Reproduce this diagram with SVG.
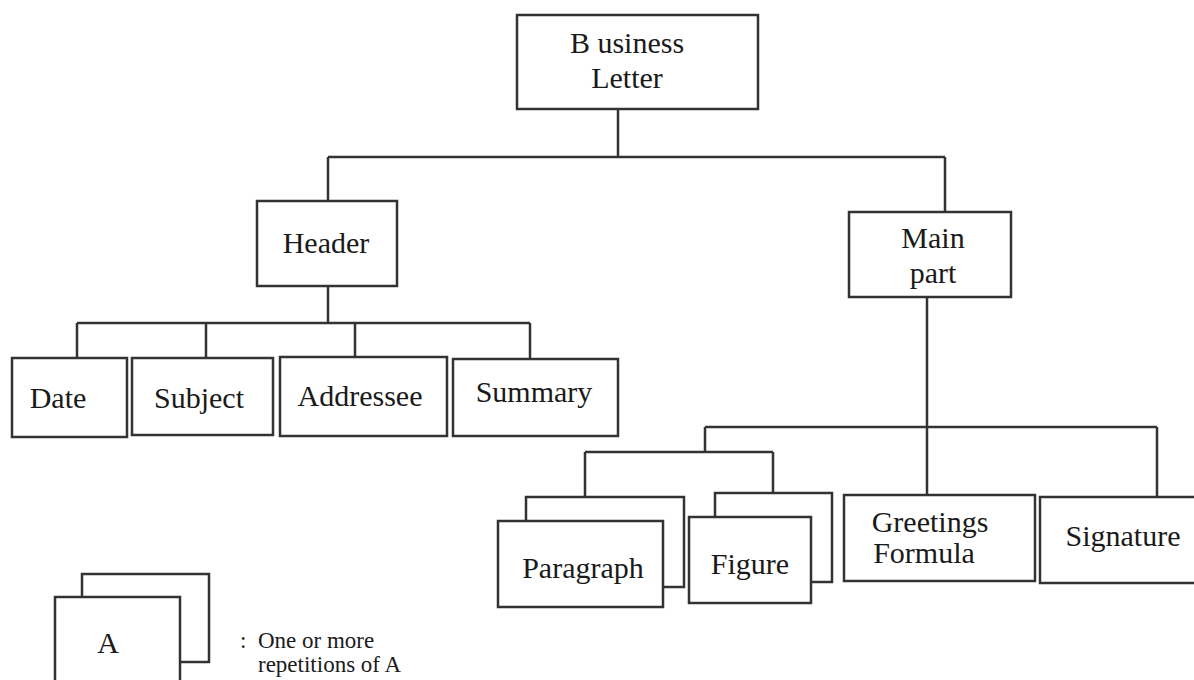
<svg xmlns="http://www.w3.org/2000/svg" width="1194" height="680" viewBox="0 0 1194 680">
<style>
.box{fill:#fff;stroke:#333;stroke-width:2.5}
.con{fill:none;stroke:#333;stroke-width:2.5}
text{font-family:"Liberation Serif","Times New Roman",serif;font-size:30px;fill:#1a1a1a;text-anchor:middle}
.leg{text-anchor:start;font-size:23px}
</style>
<rect width="1194" height="680" fill="#fff"/>
<g id="connectors">
<path class="con" d="M618 109V157M328 157H945M328 157V201M945 157V212"/>
<path class="con" d="M328 286V323M77 323H530M77 323V358M206 323V358M355 323V358M530 323V359"/>
<path class="con" d="M927 297V495M705 427H1157M1157 427V497M705 427V452M585 452H773M585 452V497M773 452V493"/>
</g>
<g id="business-letter"><rect class="box" x="517" y="15" width="241" height="94"/><text x="627" y="53">B usiness</text><text x="627" y="88">Letter</text></g>
<g id="header"><rect class="box" x="257" y="201" width="140" height="85"/><text x="326" y="253">Header</text></g>
<g id="main-part"><rect class="box" x="849" y="212" width="162" height="85"/><text x="933" y="248">Main</text><text x="933" y="283">part</text></g>
<g id="date"><rect class="box" x="12" y="358" width="115" height="79"/><text x="58" y="408">Date</text></g>
<g id="subject"><rect class="box" x="132" y="358" width="141" height="77"/><text x="199" y="408">Subject</text></g>
<g id="addressee"><rect class="box" x="280" y="357" width="167" height="79"/><text x="360" y="406">Addressee</text></g>
<g id="summary"><rect class="box" x="453" y="359" width="165" height="77"/><text x="534" y="402">Summary</text></g>
<g id="paragraph"><rect class="box" x="526" y="497" width="158" height="90"/><rect class="box" x="498" y="521" width="165" height="86"/><text x="583" y="578">Paragraph</text></g>
<g id="figure"><rect class="box" x="715" y="493" width="117" height="89"/><rect class="box" x="689" y="517" width="122" height="86"/><text x="750" y="574">Figure</text></g>
<g id="greetings-formula"><rect class="box" x="844" y="495" width="191" height="86"/><text x="930" y="532">Greetings</text><text x="924" y="563">Formula</text></g>
<g id="signature"><rect class="box" x="1040" y="497" width="160" height="86"/><text x="1123" y="546">Signature</text></g>
<g id="legend"><rect class="box" x="82" y="574" width="127" height="88"/><rect class="box" x="55" y="597" width="125" height="95"/><text x="108" y="653">A</text><text class="leg" x="240" y="648">:</text><text class="leg" x="258" y="648">One or more</text><text class="leg" x="258" y="672">repetitions of A</text></g>
</svg>
